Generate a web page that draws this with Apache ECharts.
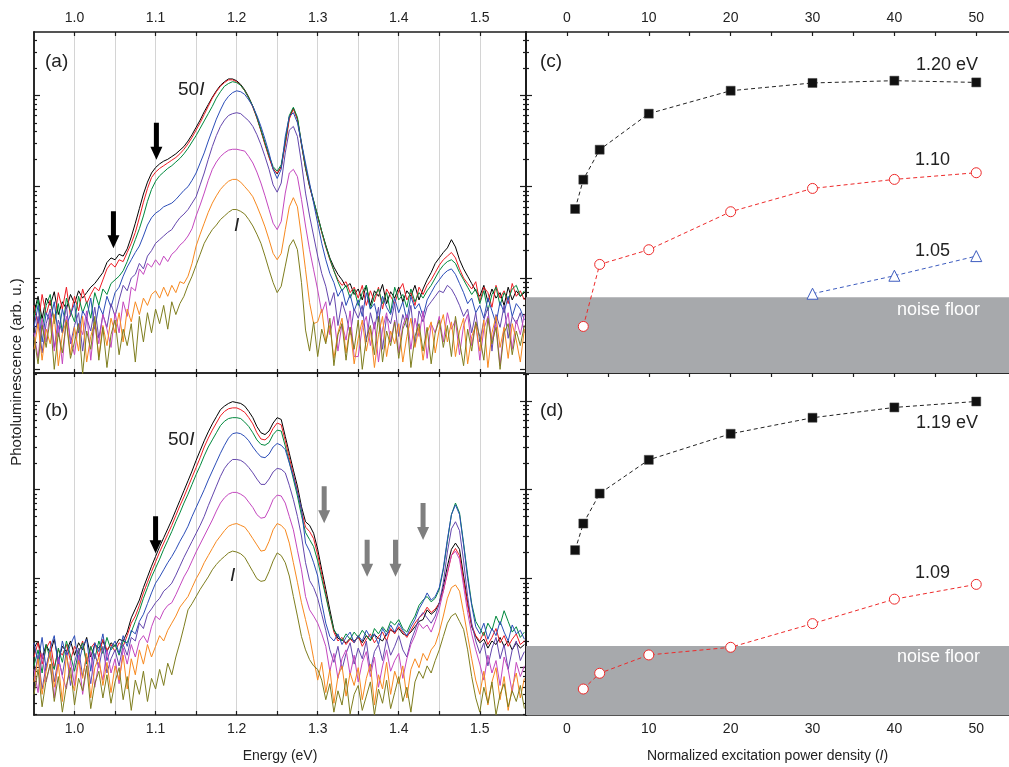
<!DOCTYPE html>
<html><head><meta charset="utf-8">
<script src="https://cdn.jsdelivr.net/npm/echarts@6/dist/echarts.min.js"></script>
<style>html,body{margin:0;padding:0;background:#fff}#c{width:1009px;height:767px}</style>
</head><body><div id="c"></div>
<script>
// ---------- DATA (log10 of PL intensity, arb. u.) ----------
const E_START = 0.95, E_STEP = 0.005;           // spectrometer energy grid (eV)
const E_TICKS  = [1.00,1.05,1.10,1.15,1.20,1.25,1.30,1.35,1.40,1.45,1.50];
const E_LABELS = [1.0,1.1,1.2,1.3,1.4,1.5];
const P_TICKS  = [0,5,10,15,20,25,30,35,40,45,50];
const P_LABELS = [0,10,20,30,40,50];
const POWERS = ['50I','40I','30I','20I','10I','4I','2I','I'];

// panel (a)
const A50 = [0.62,0.80,0.55,0.78,0.70,0.85,0.60,0.74,0.66,0.82,
0.72,0.86,0.78,0.84,0.90,0.94,1.00,1.06,1.17,1.22,
1.20,1.26,1.24,1.32,1.45,1.60,1.76,1.92,2.05,2.15,
2.21,2.25,2.28,2.30,2.33,2.36,2.40,2.44,2.50,2.57,
2.65,2.73,2.82,2.90,2.98,3.05,3.11,3.15,3.18,3.18,
3.16,3.12,3.06,2.98,2.88,2.76,2.62,2.47,2.33,2.20,
2.14,2.22,2.48,2.76,2.86,2.74,2.46,2.20,2.00,1.84,
1.68,1.51,1.36,1.22,1.12,1.04,0.98,0.90,0.94,0.82,
0.88,0.76,0.92,0.70,0.86,0.80,0.93,0.72,0.85,0.78,
0.90,0.74,0.86,0.80,0.92,0.76,0.88,0.98,1.06,1.16,
1.22,1.28,1.33,1.42,1.34,1.20,1.10,1.02,0.94,0.86,
0.80,0.92,0.74,0.88,0.78,0.84,0.70,0.90,0.76,0.86,
0.80,0.84];
const A40 = [0.70,0.48,0.82,0.60,0.76,0.52,0.84,0.66,0.90,0.58,
0.80,0.64,0.88,0.72,0.82,0.90,0.86,0.98,1.10,1.16,
1.12,1.20,1.18,1.28,1.38,1.50,1.66,1.83,1.98,2.10,
2.16,2.20,2.23,2.26,2.29,2.32,2.36,2.41,2.47,2.54,
2.62,2.70,2.79,2.88,2.97,3.04,3.10,3.14,3.17,3.17,
3.15,3.11,3.05,2.97,2.87,2.75,2.61,2.46,2.32,2.19,
2.15,2.21,2.46,2.74,2.85,2.74,2.47,2.21,2.01,1.84,
1.67,1.50,1.34,1.20,1.08,0.98,0.92,0.96,0.84,0.90,
0.78,0.92,0.70,0.86,0.74,0.90,0.66,0.88,0.80,0.72,
0.86,0.94,0.76,0.84,0.70,0.90,0.82,0.92,0.98,1.06,
1.14,1.20,1.24,1.28,1.22,1.10,1.00,0.94,0.88,0.96,
0.74,0.90,0.84,0.68,0.92,0.78,0.86,0.72,0.94,0.80,
0.86,0.76];
const A30 = [0.58,0.76,0.44,0.70,0.82,0.50,0.72,0.40,0.78,0.64,
0.52,0.80,0.62,0.74,0.56,0.84,0.70,0.88,0.82,0.94,
0.98,1.02,1.08,1.18,1.30,1.42,1.54,1.68,1.84,1.97,
2.06,2.12,2.16,2.20,2.23,2.27,2.31,2.36,2.42,2.49,
2.56,2.64,2.72,2.80,2.88,2.97,3.04,3.10,3.13,3.15,
3.14,3.11,3.05,2.97,2.88,2.76,2.62,2.48,2.34,2.22,
2.17,2.24,2.50,2.78,2.87,2.76,2.48,2.22,2.02,1.85,
1.68,1.51,1.35,1.21,1.08,0.96,0.86,0.92,0.78,0.88,
0.70,0.84,0.92,0.66,0.80,0.88,0.72,0.84,0.62,0.90,
0.76,0.82,0.68,0.88,0.74,0.84,0.78,0.86,0.92,1.00,
1.08,1.14,1.18,1.20,1.16,1.06,0.98,0.90,0.82,0.88,
0.72,0.86,0.64,0.82,0.90,0.70,0.84,0.76,0.88,0.92,
0.80,0.86];
const A20 = [0.46,0.70,0.30,0.62,0.52,0.74,0.36,0.66,0.48,0.60,
0.72,0.40,0.64,0.56,0.78,0.44,0.70,0.60,0.80,0.68,
0.84,0.90,1.02,1.12,1.20,1.28,1.35,1.46,1.58,1.66,
1.71,1.74,1.78,1.80,1.82,1.86,1.91,1.96,2.00,2.07,
2.15,2.26,2.37,2.50,2.62,2.74,2.84,2.93,2.99,3.03,
3.05,3.04,3.01,2.95,2.88,2.78,2.66,2.52,2.37,2.19,
2.09,2.19,2.55,2.77,2.81,2.70,2.48,2.26,2.04,1.82,
1.60,1.38,1.20,1.05,0.95,0.80,0.88,0.70,0.82,0.64,
0.76,0.58,0.84,0.66,0.72,0.52,0.80,0.68,0.60,0.78,
0.62,0.74,0.54,0.80,0.66,0.72,0.58,0.76,0.84,0.92,
0.98,1.04,1.08,1.10,1.04,0.94,0.84,0.72,0.78,0.62,
0.70,0.56,0.78,0.64,0.50,0.74,0.62,0.80,0.58,0.72,
0.66,0.54];
const A10 = [0.32,0.58,0.18,0.50,0.66,0.24,0.54,0.40,0.70,0.28,
0.48,0.62,0.20,0.56,0.42,0.68,0.34,0.60,0.46,0.72,
0.58,0.76,0.92,0.86,1.00,1.04,1.16,1.10,1.24,1.30,
1.38,1.42,1.46,1.50,1.53,1.60,1.66,1.70,1.75,1.82,
1.89,2.02,2.15,2.30,2.44,2.56,2.66,2.73,2.78,2.80,
2.81,2.80,2.76,2.72,2.66,2.57,2.46,2.33,2.19,2.02,
1.94,2.04,2.37,2.62,2.66,2.55,2.26,1.93,1.68,1.46,
1.24,1.05,0.91,0.70,0.84,0.48,0.74,0.60,0.38,0.66,
0.56,0.70,0.30,0.62,0.44,0.68,0.22,0.58,0.50,0.72,
0.36,0.60,0.46,0.70,0.26,0.64,0.52,0.68,0.74,0.80,
0.86,0.84,0.92,0.88,0.80,0.70,0.58,0.66,0.40,0.62,
0.30,0.54,0.68,0.20,0.60,0.46,0.70,0.34,0.58,0.50,
0.62,0.40];
const A4 = [0.40,0.12,0.56,0.30,0.62,0.20,0.48,0.06,0.58,0.34,
0.16,0.50,0.38,0.64,0.10,0.52,0.28,0.60,0.44,0.24,
0.62,0.40,0.74,0.58,0.90,0.86,1.10,1.04,1.16,1.12,
1.20,1.14,1.24,1.18,1.26,1.30,1.36,1.40,1.46,1.54,
1.68,1.80,1.93,2.07,2.19,2.27,2.33,2.37,2.40,2.41,
2.41,2.40,2.39,2.33,2.26,2.16,2.04,1.90,1.75,1.60,
1.53,1.62,1.93,2.15,2.19,2.11,1.86,1.57,1.31,1.09,
0.87,0.62,0.74,0.38,0.58,0.20,0.50,0.32,0.64,0.14,
0.14,0.46,0.58,0.26,0.52,0.08,0.44,0.62,0.30,0.54,
0.18,0.48,0.60,0.22,0.56,0.36,0.64,0.12,0.50,0.40,
0.58,0.30,0.62,0.44,0.54,0.16,0.48,0.60,0.26,0.52,
0.10,0.44,0.58,0.32,0.50,0.04,0.46,0.62,0.22,0.54,
0.38,0.60];
const A2 = [0.22,0.50,0.10,0.44,0.28,0.60,0.04,0.38,0.54,0.16,
0.46,0.20,0.58,0.08,0.36,0.52,0.14,0.48,0.26,0.56,
0.40,0.62,0.30,0.66,0.52,0.74,0.60,0.78,0.70,0.82,
0.86,0.78,0.90,0.80,0.92,0.84,0.96,0.94,1.02,1.16,
1.35,1.48,1.60,1.72,1.82,1.90,1.97,2.02,2.06,2.08,
2.08,2.05,2.00,1.95,1.89,1.79,1.68,1.56,1.42,1.27,
1.20,1.27,1.53,1.78,1.88,1.78,1.45,1.09,0.73,0.50,
0.52,0.66,0.30,0.48,0.12,0.40,0.56,0.18,0.46,0.06,
0.34,0.54,0.20,0.44,0.02,0.38,0.58,0.14,0.42,0.28,
0.50,0.08,0.36,0.56,0.24,0.46,0.10,0.40,0.52,0.18,
0.44,0.60,0.30,0.52,0.14,0.42,0.56,0.06,0.36,0.48,
0.20,0.54,0.02,0.40,0.58,0.24,0.46,0.12,0.50,0.32,
0.08,0.44];
const A1 = [0.36,0.06,0.48,0.24,0.56,0.00,0.40,0.18,0.52,0.12,
0.30,0.50,-0.05,0.42,0.22,0.58,0.10,0.46,0.02,0.38,
0.54,0.16,0.44,0.26,0.50,0.08,0.58,0.30,0.62,0.40,
0.66,0.50,0.70,0.44,0.74,0.60,0.72,0.80,0.92,1.02,
1.14,1.26,1.38,1.46,1.53,1.58,1.64,1.68,1.72,1.75,
1.75,1.73,1.70,1.64,1.57,1.48,1.38,1.24,1.09,0.95,
0.84,0.91,1.13,1.35,1.42,1.31,0.95,0.43,0.20,0.52,
0.14,0.44,0.28,0.56,0.04,0.38,0.50,0.10,0.46,0.22,
0.54,0.00,0.34,0.48,0.16,0.58,0.08,0.42,0.26,0.52,
0.12,0.44,0.56,0.02,0.36,0.50,0.20,0.46,0.06,0.40,
0.54,0.24,0.48,0.14,0.58,0.30,0.04,0.44,0.20,0.52,
0.36,0.10,0.56,0.28,0.46,0.00,0.40,0.50,0.16,0.42,
0.26,0.48];

// panel (b)
const B50 = [1.22,1.30,1.10,1.26,1.16,1.32,1.08,1.24,1.18,1.30,
1.14,1.28,1.20,1.34,1.12,1.26,1.22,1.30,1.18,1.28,
1.24,1.32,1.30,1.40,1.56,1.66,1.76,1.90,2.02,2.14,
2.25,2.36,2.46,2.56,2.66,2.77,2.88,2.99,3.10,3.21,
3.33,3.44,3.55,3.65,3.74,3.82,3.90,3.94,3.97,3.99,
3.98,3.97,3.94,3.88,3.81,3.71,3.64,3.62,3.66,3.75,
3.81,3.79,3.60,3.41,3.22,3.04,2.81,2.64,2.60,2.51,
2.33,2.10,1.88,1.65,1.43,1.33,1.31,1.28,1.33,1.30,
1.34,1.28,1.36,1.31,1.37,1.33,1.30,1.38,1.42,1.40,
1.44,1.38,1.36,1.40,1.46,1.52,1.54,1.65,1.60,1.64,
1.73,1.91,2.14,2.33,2.40,2.33,2.03,1.73,1.46,1.35,
1.28,1.32,1.22,1.30,1.26,1.34,1.24,1.30,1.20,1.28,
1.22,1.26];
const B40 = [1.12,1.28,1.04,1.22,1.30,1.00,1.20,1.14,1.26,1.08,
1.24,1.16,1.30,1.06,1.22,1.28,1.12,1.32,1.20,1.26,
1.18,1.28,1.24,1.36,1.50,1.58,1.70,1.84,1.96,2.08,
2.19,2.30,2.40,2.50,2.60,2.71,2.82,2.92,3.03,3.14,
3.25,3.36,3.48,3.58,3.67,3.75,3.83,3.88,3.91,3.92,
3.92,3.90,3.87,3.81,3.74,3.64,3.57,3.56,3.60,3.69,
3.75,3.73,3.55,3.36,3.17,2.99,2.76,2.58,2.53,2.45,
2.27,2.05,1.83,1.60,1.40,1.30,1.34,1.26,1.32,1.28,
1.36,1.24,1.32,1.38,1.28,1.35,1.40,1.30,1.44,1.38,
1.46,1.40,1.34,1.42,1.50,1.56,1.60,1.68,1.62,1.66,
1.72,1.86,2.06,2.26,2.34,2.26,1.98,1.70,1.48,1.36,
1.30,1.40,1.26,1.34,1.44,1.28,1.36,1.24,1.32,1.38,
1.26,1.30];
const B30 = [1.02,1.20,0.94,1.26,1.10,0.98,1.22,1.06,1.30,1.14,
0.96,1.18,1.28,1.04,1.24,1.10,1.30,1.16,1.34,1.20,
1.26,1.14,1.30,1.28,1.40,1.52,1.64,1.78,1.90,2.02,
2.12,2.22,2.33,2.43,2.53,2.64,2.74,2.85,2.95,3.06,
3.17,3.27,3.38,3.48,3.56,3.64,3.72,3.77,3.80,3.81,
3.81,3.80,3.76,3.71,3.64,3.56,3.51,3.50,3.53,3.62,
3.67,3.66,3.49,3.31,3.12,2.93,2.71,2.52,2.44,2.36,
2.20,2.00,1.80,1.60,1.42,1.36,1.30,1.38,1.32,1.40,
1.34,1.42,1.36,1.30,1.44,1.38,1.46,1.40,1.52,1.48,
1.54,1.44,1.40,1.50,1.58,1.70,1.76,1.80,1.74,1.78,
1.88,2.10,2.42,2.72,2.85,2.74,2.40,2.04,1.72,1.52,
1.44,1.36,1.50,1.42,1.58,1.48,1.64,1.52,1.40,1.46,
1.34,1.40];
const B20 = [1.28,1.06,1.34,0.98,1.22,1.36,1.02,1.30,1.12,1.26,
1.36,1.04,1.24,1.32,0.96,1.28,1.18,1.38,1.08,1.22,
1.30,1.16,1.36,1.24,1.42,1.38,1.52,1.60,1.72,1.84,
1.95,2.02,2.10,2.18,2.25,2.33,2.42,2.50,2.59,2.70,
2.80,2.90,3.00,3.11,3.21,3.31,3.41,3.50,3.58,3.63,
3.64,3.63,3.60,3.55,3.48,3.42,3.37,3.36,3.40,3.48,
3.52,3.50,3.45,3.30,3.15,2.97,2.78,2.40,2.31,2.18,
2.03,1.73,1.50,1.35,1.30,1.38,1.26,1.34,1.40,1.28,
1.36,1.30,1.42,1.34,1.38,1.26,1.44,1.36,1.48,1.40,
1.50,1.42,1.36,1.46,1.54,1.66,1.74,1.84,1.76,1.80,
1.90,2.12,2.44,2.72,2.83,2.72,2.38,2.00,1.70,1.46,
1.38,1.50,1.32,1.44,1.36,1.52,1.40,1.30,1.48,1.38,
1.42,1.32];
const B10 = [0.88,1.14,0.76,1.02,1.20,0.84,1.10,0.92,1.18,0.80,
1.06,1.22,0.90,1.12,0.82,1.16,1.00,1.24,0.94,1.10,
1.20,1.02,1.26,1.14,1.34,1.30,1.50,1.44,1.60,1.66,
1.73,1.78,1.86,1.90,1.95,2.04,2.14,2.24,2.33,2.42,
2.51,2.60,2.70,2.82,2.93,3.04,3.15,3.24,3.30,3.34,
3.34,3.33,3.30,3.25,3.19,3.12,3.06,3.06,3.12,3.20,
3.24,3.23,3.19,3.05,2.89,2.70,2.48,2.18,1.98,1.90,
1.78,1.60,1.42,1.20,1.06,1.24,0.98,1.16,1.28,1.04,
1.22,1.10,1.30,0.96,1.18,1.26,1.08,1.32,1.14,1.24,
1.36,1.20,1.12,1.30,1.42,1.56,1.62,1.56,1.50,1.58,
1.72,1.96,2.30,2.56,2.64,2.54,2.20,1.80,1.50,1.30,
1.16,1.28,1.02,1.22,1.34,1.10,1.26,0.98,1.20,1.30,
1.08,1.18];
const B4 = [0.98,0.72,1.16,0.84,1.04,0.66,1.12,0.90,0.76,1.08,
0.80,1.14,0.70,1.00,1.18,0.78,1.06,0.86,1.20,0.94,
1.10,0.82,1.22,1.04,1.26,1.12,1.30,1.36,1.28,1.46,
1.58,1.54,1.64,1.70,1.73,1.82,1.92,2.02,2.10,2.20,
2.30,2.39,2.48,2.57,2.66,2.76,2.85,2.91,2.95,2.97,
2.97,2.95,2.92,2.86,2.80,2.72,2.68,2.69,2.78,2.89,
2.94,2.93,2.85,2.70,2.55,2.32,2.10,1.80,1.65,1.58,
1.50,1.38,1.24,0.96,1.16,0.88,1.10,1.20,0.92,1.14,
0.84,1.06,1.18,0.90,1.12,0.78,1.02,1.20,0.96,1.08,
1.16,0.88,1.10,1.26,1.36,1.50,1.44,1.48,1.40,1.52,
1.66,1.86,2.08,2.26,2.31,2.22,1.92,1.62,1.38,1.20,
1.04,0.86,1.14,0.94,1.08,0.80,1.12,0.98,0.72,1.06,
0.90,1.02];
const B2 = [0.84,1.10,0.70,0.96,1.18,0.78,1.04,0.62,1.14,0.90,
0.74,1.08,0.88,1.16,0.66,1.00,1.12,0.80,1.06,0.72,
1.02,0.86,1.14,0.76,1.10,0.92,1.20,1.04,1.26,1.12,
1.24,1.36,1.30,1.42,1.50,1.58,1.68,1.74,1.80,1.90,
2.00,2.08,2.18,2.26,2.34,2.42,2.48,2.54,2.59,2.61,
2.62,2.60,2.58,2.52,2.45,2.38,2.31,2.32,2.42,2.55,
2.62,2.60,2.55,2.40,2.18,1.96,1.73,1.54,1.35,1.10,
0.86,1.06,0.72,0.98,0.60,0.90,1.02,0.68,0.94,0.80,
1.00,0.64,0.88,1.04,0.58,0.92,0.76,1.06,0.70,0.96,
0.82,1.02,0.66,0.98,1.10,1.00,1.16,1.08,1.20,1.26,
1.40,1.58,1.78,1.90,1.93,1.86,1.62,1.36,1.10,0.86,
0.70,0.96,0.58,0.84,1.00,0.64,0.90,0.52,0.78,0.94,
0.66,0.88];
const B1 = [0.70,0.98,0.56,0.86,1.04,0.62,0.90,0.50,0.80,1.00,
0.58,0.88,0.74,1.02,0.54,0.82,0.96,0.66,0.92,0.60,
0.84,1.00,0.64,0.90,0.52,0.86,0.70,0.96,0.62,0.88,
0.76,0.98,0.80,1.05,0.92,1.12,1.28,1.46,1.65,1.72,
1.80,1.88,1.95,2.02,2.10,2.16,2.21,2.25,2.29,2.31,
2.30,2.28,2.24,2.16,2.08,2.00,1.97,1.98,2.08,2.20,
2.29,2.26,2.18,2.03,1.80,1.58,1.35,1.20,1.09,1.02,
0.98,0.86,0.64,0.82,0.50,0.74,0.58,0.88,0.48,0.70,
0.80,0.52,0.68,0.84,0.47,0.76,0.60,0.86,0.54,0.72,
0.90,0.62,0.78,0.50,0.84,0.96,0.88,1.02,0.94,1.08,
1.20,1.35,1.50,1.58,1.61,1.52,1.43,1.20,0.90,0.66,
0.50,0.78,0.60,0.84,0.47,0.70,0.82,0.56,0.74,0.62,
0.80,0.54];

// panels (c), (d): power dependence
const P_ALL  = [1,2,4,10,20,30,40,50];
const C_120  = [1.756,2.077,2.405,2.800,3.051,3.136,3.161,3.142];
const P_C110 = [2,4,10,20,30,40,50];
const C_110  = [0.470,1.149,1.310,1.726,1.981,2.080,2.153];
const P_C105 = [30,40,50];
const C_105  = [0.828,1.025,1.240];
const D_119  = [2.321,2.620,2.957,3.336,3.629,3.809,3.925,3.992];
const P_D109 = [2,4,10,20,30,40,50];
const D_109  = [0.760,0.937,1.143,1.229,1.495,1.770,1.936];
const NOISE_C = 0.79, NOISE_D = 1.244;

// arrows [energy, log intensity of arrow centre]
const ARROWS_A = [[1.101,2.498],[1.048,1.529]];
const ARROWS_B_BLACK = [[1.100,2.493]];
const ARROWS_B_GRAY = [[1.308,2.830],[1.361,2.230],[1.396,2.230],[1.430,2.642]];

// ---------- CHART ----------
const COLORS = ['#000000','#ee1c24','#00893d','#2b4db8','#6446ad','#c447bf','#f7891f','#7e7d1e'];
const FONT = '"Liberation Sans", Arial, Helvetica, sans-serif';
const AX = '#1c1c1c';
const YA = [-0.04, 3.694], YB = [0.468, 4.312];
const XE = [0.95, 1.557], XP = [-5, 54];

const energy = A50.map((_, i) => +(E_START + i * E_STEP).toFixed(4));
const pts = (xs, ys) => ys.map((y, i) => [xs[i], y]);

function logTicks(r, minor) {
  const out = [];
  for (let k = Math.floor(r[0]) - 1; k <= Math.ceil(r[1]); k++) {
    if (!minor) out.push(k);
    else for (let m = 2; m <= 9; m++) out.push(k + Math.log10(m));
  }
  return out.filter(v => v >= r[0] && v <= r[1]);
}

const xAxis = [], yAxis = [];
function addX(grid, position, range, ticks, labels, fmt, split, name) {
  const ax = {
    type: 'value', gridIndex: grid, position, min: range[0], max: range[1],
    axisLine: {show: true, onZero: false, lineStyle: {color: AX, width: 1.5}},
    axisTick: {show: true, inside: true, length: 4, customValues: ticks, lineStyle: {color: AX, width: 1.2}},
    axisLabel: labels ? {show: true, customValues: labels, formatter: fmt, color: '#222', fontSize: 14, fontFamily: FONT, margin: 7} : {show: false},
    splitLine: split ? {show: true, lineStyle: {color: '#d4d4d4', width: 1}} : {show: false}
  };
  if (name) {
    ax.name = name; ax.nameLocation = 'middle'; ax.nameGap = 34;
    ax.nameTextStyle = {fontSize: 14, color: '#222', fontFamily: FONT, rich: {i: {fontStyle: 'italic', fontSize: 14, color: '#222', fontFamily: FONT}}};
  }
  xAxis.push(ax);
}
function addY(grid, position, range, major) {
  yAxis.push({
    type: 'value', gridIndex: grid, position, min: range[0], max: range[1],
    axisLine: {show: true, onZero: false, lineStyle: {color: AX, width: 1.5}},
    axisTick: {show: true, inside: true, length: major ? 6 : 3, customValues: logTicks(range, !major), lineStyle: {color: AX, width: 1.2}},
    axisLabel: {show: false}, splitLine: {show: false}
  });
}
const fE = v => v.toFixed(1), fP = v => String(Math.round(v));
// x axes: 0 a-bottom, 1 a-top, 2 b-bottom, 3 b-top, 4 c-bottom, 5 c-top, 6 d-bottom, 7 d-top
addX(0, 'bottom', XE, E_TICKS, null, null, true);
addX(0, 'top', XE, E_TICKS, E_LABELS, fE, false);
addX(1, 'bottom', XE, E_TICKS, E_LABELS, fE, true, 'Energy (eV)');
addX(1, 'top', XE, E_TICKS, null, null, false);
addX(2, 'bottom', XP, P_TICKS, null, null, false);
addX(2, 'top', XP, P_TICKS, P_LABELS, fP, false);
addX(3, 'bottom', XP, P_TICKS, P_LABELS, fP, false, 'Normalized excitation power density ({i|I})');
addX(3, 'top', XP, P_TICKS, null, null, false);
// y axes
addY(0, 'left', YA, true); addY(0, 'left', YA, false); addY(0, 'right', YA, true); addY(0, 'right', YA, false);
addY(1, 'left', YB, true); addY(1, 'left', YB, false); addY(1, 'right', YB, true); addY(1, 'right', YB, false);
addY(2, 'left', YA, true); addY(2, 'left', YA, false);
addY(3, 'left', YB, true); addY(3, 'left', YB, false);

const series = [];
const SPEC_A = [A50, A40, A30, A20, A10, A4, A2, A1];
const SPEC_B = [B50, B40, B30, B20, B10, B4, B2, B1];
SPEC_A.forEach((arr, k) => series.push({type: 'line', name: 'a ' + POWERS[k], xAxisIndex: 0, yAxisIndex: 0,
  data: pts(energy, arr), symbol: 'none', silent: true, lineStyle: {color: COLORS[k], width: 1}}));
SPEC_B.forEach((arr, k) => series.push({type: 'line', name: 'b ' + POWERS[k], xAxisIndex: 2, yAxisIndex: 4,
  data: pts(energy, arr), symbol: 'none', silent: true, lineStyle: {color: COLORS[k], width: 1}}));

const ARROW = 'path://M3.5,0L8.5,0L8.5,24L12,24L6,37L0,24L3.5,24Z';
const AS = [12, 37];
series.push({type: 'scatter', xAxisIndex: 0, yAxisIndex: 0, data: ARROWS_A, symbol: ARROW, symbolSize: AS, itemStyle: {color: '#000', opacity: 1}, silent: true, z: 5});
series.push({type: 'scatter', xAxisIndex: 2, yAxisIndex: 4, data: ARROWS_B_BLACK, symbol: ARROW, symbolSize: AS, itemStyle: {color: '#000', opacity: 1}, silent: true, z: 5});
series.push({type: 'scatter', xAxisIndex: 2, yAxisIndex: 4, data: ARROWS_B_GRAY, symbol: ARROW, symbolSize: AS, itemStyle: {color: '#7f7f7f', opacity: 1}, silent: true, z: 5});

const sq = {symbol: 'rect', symbolSize: 9, itemStyle: {color: '#111', borderColor: '#444', borderWidth: 0.5}, lineStyle: {color: '#222', width: 1, type: [4, 3]}};
const ci = {symbol: 'circle', symbolSize: 10, itemStyle: {color: '#fff', borderColor: '#ee2a2a', borderWidth: 1}, lineStyle: {color: '#ee2a2a', width: 1, type: [4, 3]}};
const tr = {symbol: 'triangle', symbolSize: 11, itemStyle: {color: '#fff', borderColor: '#3d5cbf', borderWidth: 1}, lineStyle: {color: '#3d5cbf', width: 1, type: [4, 3]}};
const band = y => ({silent: true, itemStyle: {color: '#a7a9ac', opacity: 1}, data: [[{yAxis: -10}, {yAxis: y}]]});

series.push(Object.assign({type: 'line', xAxisIndex: 4, yAxisIndex: 8, data: pts(P_ALL, C_120), showAllSymbol: true, silent: true, z: 3, markArea: band(NOISE_C)}, sq));
series.push(Object.assign({type: 'line', xAxisIndex: 4, yAxisIndex: 8, data: pts(P_C110, C_110), showAllSymbol: true, silent: true, z: 3}, ci));
series.push(Object.assign({type: 'line', xAxisIndex: 4, yAxisIndex: 8, data: pts(P_C105, C_105), showAllSymbol: true, silent: true, z: 3}, tr));
series.push(Object.assign({type: 'line', xAxisIndex: 6, yAxisIndex: 10, data: pts(P_ALL, D_119), showAllSymbol: true, silent: true, z: 3, markArea: band(NOISE_D)}, sq));
series.push(Object.assign({type: 'line', xAxisIndex: 6, yAxisIndex: 10, data: pts(P_D109, D_109), showAllSymbol: true, silent: true, z: 3}, ci));

const T = (o, text, size, color, extra) => Object.assign({type: 'text', z: 20, style: Object.assign({text, fontSize: size || 18, fontFamily: FONT, fill: color || '#222',
  rich: {i: {fontStyle: 'italic', fontSize: size || 18, fontFamily: FONT, fill: color || '#222'}}}, extra || {})}, o);

const graphic = [
  T({left: 45, top: 52}, '(a)', 19), T({left: 45, top: 401}, '(b)', 19),
  T({left: 540, top: 52}, '(c)', 19), T({left: 540, top: 401}, '(d)', 19),
  T({left: 178, top: 80}, '50{i|I}', 19), T({left: 234, top: 216}, '{i|I}', 19),
  T({left: 168, top: 430}, '50{i|I}', 19), T({left: 230, top: 566}, '{i|I}', 19),
  T({right: 31, top: 56}, '1.20 eV', 18), T({left: 915, top: 151}, '1.10', 18), T({left: 915, top: 242}, '1.05', 18),
  T({right: 31, top: 414}, '1.19 eV', 18), T({left: 915, top: 564}, '1.09', 18),
  T({right: 29, top: 301}, 'noise floor', 18, '#ffffff'), T({right: 29, top: 648}, 'noise floor', 18, '#ffffff'),
  {type: 'text', x: 17, y: 372, rotation: Math.PI / 2, z: 20,
   style: {text: 'Photoluminescence (arb. u.)', fontSize: 15, fontFamily: FONT, fill: '#222', align: 'center', verticalAlign: 'middle'}}
];

const chart = echarts.init(document.getElementById('c'), null, {renderer: 'canvas'});
chart.setOption({
  animation: false, backgroundColor: '#ffffff',
  grid: [
    {left: 34, top: 32, width: 492, height: 341},
    {left: 34, top: 373, width: 492, height: 342},
    {left: 526, top: 32, width: 483, height: 341},
    {left: 526, top: 373, width: 483, height: 342}
  ],
  xAxis, yAxis, series, graphic
});
</script></body></html>
